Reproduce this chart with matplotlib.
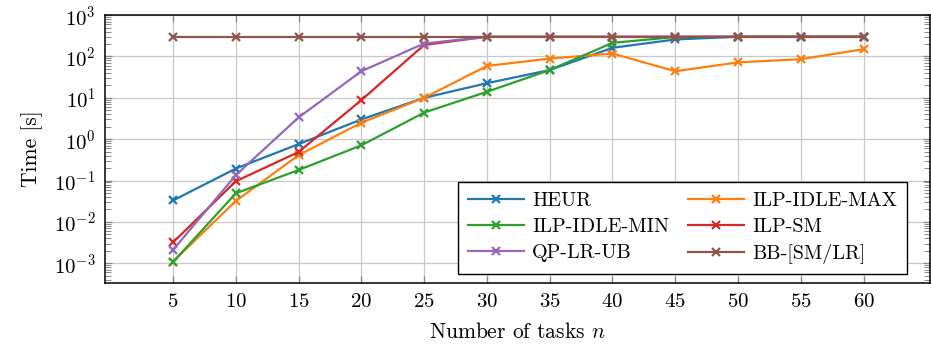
import matplotlib
matplotlib.use("Agg")
import matplotlib.pyplot as plt
from matplotlib.ticker import LogLocator, NullFormatter

plt.rcParams['font.family'] = 'serif'
plt.rcParams['font.serif'] = ['cmr10']
plt.rcParams['mathtext.fontset'] = 'cm'
plt.rcParams['axes.formatter.use_mathtext'] = True

tasks = [5, 10, 15, 20, 25, 30, 35, 40, 45, 50, 55, 60]

heur = [0.033, 0.195, 0.76, 3.0, 10, 22.6, 47, 162, 258, 300, 300, 300]
ilp_idle_max = [0.0011, 0.032, 0.41, 2.5, 10, 59, 89, 118, 44, 72, 86, 150]
ilp_idle_min = [0.00107, 0.049, 0.18, 0.71, 4.4, 14, 47, 214, 295, 300, 300, 300]
ilp_sm = [0.0032, 0.096, 0.49, 8.8, 190, 300, 300, 300, 300, 300, 300, 300]
qp_lr_ub = [0.0021, 0.135, 3.35, 44, 206, 300, 300, 300, 300, 300, 300, 300]
bb = [300] * 12

series = [
    ("HEUR", heur, "tab:blue"),
    ("ILP-IDLE-MAX", ilp_idle_max, "tab:orange"),
    ("ILP-IDLE-MIN", ilp_idle_min, "tab:green"),
    ("ILP-SM", ilp_sm, "tab:red"),
    ("QP-LR-UB", qp_lr_ub, "tab:purple"),
    ("BB-[SM/LR]", bb, "tab:brown"),
]

fig = plt.figure(figsize=(9.31, 3.44), dpi=100)
ax = fig.add_axes([0.113, 0.177, 0.886, 0.779])

handles = {}
for name, vals, col in series:
    h, = ax.plot(tasks, vals, color=col, marker='x', ms=6, mew=1.6, lw=1.6,
                 label=name)
    handles[name] = h

ax.set_yscale('log')
ax.set_ylim(10 ** -3.48, 1e3)
ax.set_xlim(-0.4, 65.3)
ax.set_xticks(tasks)
ax.yaxis.set_major_locator(LogLocator(base=10, numticks=10))
ax.yaxis.set_minor_locator(LogLocator(base=10, subs=range(2, 10), numticks=10))
ax.yaxis.set_minor_formatter(NullFormatter())

ax.grid(True, which='major', color='#c8c8c8', lw=0.9)
ax.set_axisbelow(True)
ax.tick_params(which='both', direction='in', top=True, right=True,
               color='#888888', labelsize=15)
ax.tick_params(which='major', length=5, width=0.9, pad=7)
ax.tick_params(which='minor', length=4, width=0.7)
for sp in ax.spines.values():
    sp.set_linewidth(1.1)

ax.set_xlabel('Number of tasks $n$', fontsize=15.5, labelpad=8)
ax.set_ylabel('Time [s]', fontsize=15.5, labelpad=8)

# legend filled row-wise like the original
order = ["HEUR", "ILP-IDLE-MIN", "QP-LR-UB", "ILP-IDLE-MAX", "ILP-SM", "BB-[SM/LR]"]
leg = ax.legend([handles[n] for n in order], order, ncol=2, loc='lower right',
                bbox_to_anchor=(0.972, 0.034), fontsize=14.5, frameon=True,
                fancybox=False, edgecolor='black', framealpha=1,
                handlelength=2.8, columnspacing=0.9, borderaxespad=0.0,
                labelspacing=0.4, handletextpad=0.4, borderpad=0.5)
leg.get_frame().set_linewidth(1.0)

fig.savefig('out.png', dpi=100)
